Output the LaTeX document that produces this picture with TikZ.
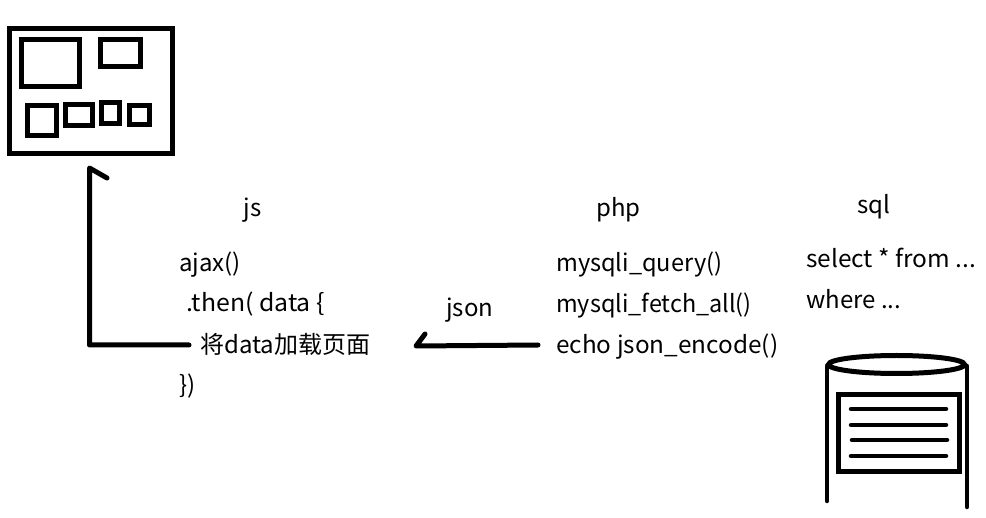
\documentclass[tikz,border=0pt]{standalone}
\usepackage{fontspec}
\setmainfont{Noto Sans CJK SC}
\begin{document}
\begin{tikzpicture}[x=1pt,y=-1pt,
  ink/.style={draw=black,line width=5pt,fill=none},
  stroke/.style={draw=black,line width=5pt,line cap=round,line join=round},
  thin stroke/.style={draw=black,line width=4.5pt,line cap=round},
  lbl/.style={anchor=base west,inner sep=0pt,font=\fontsize{24}{28}\selectfont},
  wide/.style={xscale=#1,transform shape}]
\useasboundingbox (0,0) rectangle (986,518);
% browser page
\draw[ink] (9.5,28.5) rectangle (172.5,153.5);
\draw[ink] (21.5,39.5) rectangle (79.5,86.5);
\draw[ink] (100.5,39.5) rectangle (140.5,66.5);
\draw[ink] (27.5,105.5) rectangle (56.5,135.5);
\draw[ink] (65.5,104.5) rectangle (92.5,125.5);
\draw[ink] (101.5,102.5) rectangle (119.5,123.5);
\draw[ink] (129.5,105.5) rectangle (149.5,124.5);
% text
\node[lbl] (js) at (243.5,217) {js};
\node[lbl] (php) at (596,217) {php};
\node[lbl] (sql) at (857,214) {sql};
\node[lbl] (ajax) at (179,272) {ajax()};
\node[lbl,wide=1.035] (then) at (186,312) {.then( data \{};
\node[lbl] (load) at (200,354) {将data加载页面};
\node[lbl] (close) at (179,394) {\})};
\node[lbl,wide=0.982] (query) at (556,272) {mysqli\_query()};
\node[lbl,wide=0.975] (fetch) at (556,313) {mysqli\_fetch\_all()};
\node[lbl,wide=1.014] (echo) at (556,354) {echo json\_encode()};
\node[lbl,wide=1.018] (select) at (806,268) {select * from ...};
\node[lbl] (where) at (806,309) {where ...};
\node[lbl] (json) at (446,317) {json};
% arrows
\coordinate (a1) at (189,345);
\coordinate (a2) at (89.5,345);
\coordinate (a3) at (89.5,168);
\coordinate (a4) at (107,178);
\draw[stroke] (a1) -- (a2) -- (a3) -- (a4);
\coordinate (b1) at (538,345);
\coordinate (b2) at (416,346);
\coordinate (b3) at (425,334);
\draw[stroke] (b1) -- (b2) -- (b3);
% database
\draw[ink] (896.5,364.5) ellipse (68 and 9);
\coordinate (c1) at (827,366);
\coordinate (c2) at (827,501);
\coordinate (c3) at (967,366);
\coordinate (c4) at (967,507);
\draw[thin stroke] (c1) -- (c2);
\draw[thin stroke] (c3) -- (c4);
\draw[ink] (838.5,394.5) rectangle (959.5,471.5);
\draw[thin stroke] (851,409) -- (946,409);
\draw[thin stroke] (851,425) -- (946,425);
\draw[thin stroke] (852,440) -- (947,440);
\draw[thin stroke] (851,456) -- (946,456);
\end{tikzpicture}
\end{document}
